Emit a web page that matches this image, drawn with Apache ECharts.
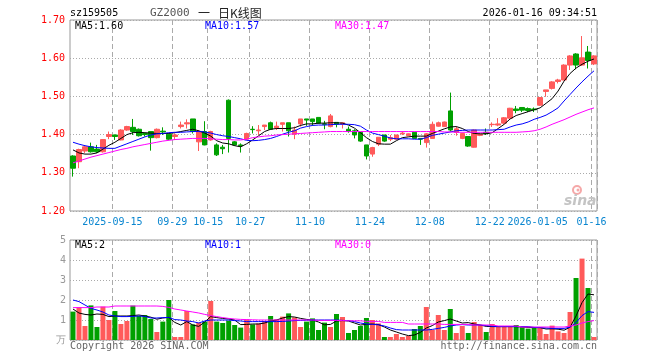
<!DOCTYPE html>
<html><head><meta charset="utf-8">
<script src="https://cdn.jsdelivr.net/npm/echarts@6/dist/echarts.min.js"></script>
<style>html,body{margin:0;padding:0;background:#fff}#c{width:660px;height:360px}</style>
</head><body><div id="c"></div>
<script>
const dates = [
"2025-09-04","2025-09-05","2025-09-08","2025-09-09","2025-09-10","2025-09-11","2025-09-12",
"2025-09-15","2025-09-16","2025-09-17","2025-09-18","2025-09-19",
"2025-09-22","2025-09-23","2025-09-24","2025-09-25","2025-09-26",
"2025-09-29","2025-09-30",
"2025-10-09","2025-10-10",
"2025-10-13","2025-10-14","2025-10-15","2025-10-16","2025-10-17",
"2025-10-21","2025-10-22","2025-10-23","2025-10-24",
"2025-10-27","2025-10-28","2025-10-29","2025-10-30","2025-10-31",
"2025-11-03","2025-11-04","2025-11-05","2025-11-06","2025-11-07",
"2025-11-10","2025-11-11","2025-11-12","2025-11-13","2025-11-14",
"2025-11-17","2025-11-18","2025-11-19","2025-11-20","2025-11-21",
"2025-11-24","2025-11-25","2025-11-26","2025-11-27","2025-11-28",
"2025-12-01","2025-12-02","2025-12-03","2025-12-04","2025-12-05",
"2025-12-08","2025-12-09","2025-12-10","2025-12-11","2025-12-12",
"2025-12-15","2025-12-16","2025-12-17","2025-12-18","2025-12-19",
"2025-12-22","2025-12-23","2025-12-24","2025-12-25","2025-12-26",
"2025-12-29","2025-12-30","2025-12-31",
"2026-01-05","2026-01-06","2026-01-07","2026-01-08","2026-01-09",
"2026-01-12","2026-01-13","2026-01-14","2026-01-15","2026-01-16"];

const opens = [1.344,1.329,1.357,1.368,1.362,1.355,1.395,1.399,1.386,1.412,
1.419,1.414,1.403,1.408,1.392,1.409,1.401,1.395,1.421,1.428,
1.441,1.381,1.408,1.386,1.373,1.367,1.490,1.381,1.373,1.388,
1.414,1.410,1.421,1.431,1.418,1.427,1.431,1.401,1.428,1.441,
1.441,1.445,1.428,1.421,1.432,1.428,1.414,1.410,1.406,1.373,
1.349,1.375,1.399,1.388,1.388,1.402,1.397,1.406,1.390,1.379,
1.390,1.422,1.421,1.462,1.406,1.390,1.395,1.367,1.398,1.406,
1.426,1.425,1.430,1.443,1.467,1.471,1.468,1.467,1.477,1.513,
1.521,1.539,1.543,1.582,1.611,1.582,1.616,1.585];
const closes = [1.312,1.361,1.368,1.355,1.355,1.387,1.400,1.395,1.412,1.421,
1.408,1.397,1.400,1.392,1.414,1.407,1.388,1.399,1.425,1.431,
1.408,1.408,1.373,1.408,1.347,1.363,1.390,1.373,1.371,1.403,
1.413,1.412,1.425,1.414,1.422,1.431,1.410,1.412,1.441,1.438,
1.434,1.430,1.427,1.449,1.427,1.431,1.408,1.399,1.383,1.344,
1.366,1.393,1.383,1.392,1.399,1.404,1.402,1.390,1.388,1.402,
1.427,1.431,1.433,1.412,1.415,1.403,1.370,1.412,1.401,1.403,
1.427,1.428,1.444,1.469,1.463,1.464,1.463,1.465,1.497,1.517,
1.538,1.543,1.582,1.606,1.582,1.601,1.594,1.606];
const lows = [1.290,1.312,1.352,1.353,1.352,1.353,1.388,1.386,1.385,1.410,
1.399,1.395,1.395,1.358,1.390,1.399,1.385,1.386,1.416,1.416,
1.403,1.357,1.372,1.384,1.344,1.349,1.353,1.371,1.353,1.386,
1.403,1.399,1.412,1.412,1.412,1.408,1.395,1.388,1.421,1.423,
1.423,1.428,1.414,1.419,1.419,1.416,1.405,1.390,1.381,1.335,
1.342,1.370,1.381,1.383,1.386,1.399,1.396,1.389,1.373,1.366,
1.390,1.421,1.421,1.408,1.397,1.388,1.368,1.366,1.396,1.399,
1.420,1.422,1.428,1.442,1.456,1.459,1.459,1.459,1.475,1.499,
1.518,1.534,1.542,1.569,1.571,1.580,1.573,1.582];
const highs = [1.346,1.363,1.372,1.379,1.373,1.388,1.408,1.400,1.414,1.423,
1.441,1.416,1.405,1.408,1.416,1.419,1.401,1.403,1.434,1.440,
1.441,1.412,1.435,1.410,1.377,1.373,1.492,1.383,1.377,1.405,
1.422,1.425,1.425,1.434,1.434,1.431,1.431,1.421,1.441,1.441,
1.441,1.445,1.436,1.454,1.432,1.431,1.421,1.414,1.406,1.373,
1.368,1.393,1.399,1.399,1.399,1.409,1.403,1.406,1.390,1.404,
1.434,1.434,1.434,1.510,1.421,1.405,1.396,1.413,1.403,1.416,
1.432,1.443,1.446,1.470,1.475,1.471,1.471,1.471,1.498,1.517,
1.540,1.546,1.584,1.608,1.613,1.658,1.632,1.608];

const volumes = [1.42,1.63,0.70,1.73,0.65,1.67,1.00,1.45,0.80,0.95,
1.72,1.20,1.25,1.05,0.40,0.92,2.00,0.15,0.15,1.45,
0.78,0.87,0.92,1.95,0.92,0.85,0.97,0.75,0.62,1.03,
0.78,0.83,0.95,1.20,1.03,1.17,1.33,1.13,0.65,0.92,
1.08,0.50,0.87,0.65,1.30,1.15,0.35,0.50,0.70,1.10,
1.00,0.83,0.15,0.15,0.30,0.15,0.20,0.55,0.70,1.65,
0.50,1.25,0.50,1.55,0.35,0.70,0.35,0.90,0.75,0.40,
0.80,0.70,0.67,0.67,0.75,0.63,0.57,0.60,0.63,0.30,
0.72,0.43,0.35,1.40,3.10,4.07,2.60,0.15];

const ma5 = [1.360,1.352,1.349,1.349,1.352,1.362,1.372,1.380,1.390,1.400,
1.405,1.406,1.405,1.404,1.403,1.403,1.403,1.405,1.408,1.411,
1.414,1.410,1.404,1.396,1.384,1.378,1.376,1.371,1.368,1.376,
1.386,1.397,1.408,1.414,1.416,1.416,1.416,1.418,1.424,1.428,
1.428,1.430,1.430,1.431,1.431,1.430,1.425,1.417,1.405,1.392,
1.382,1.376,1.375,1.375,1.384,1.392,1.394,1.396,1.396,1.396,
1.403,1.409,1.415,1.420,1.421,1.416,1.408,1.403,1.402,1.402,
1.405,1.416,1.427,1.441,1.450,1.455,1.460,1.465,1.470,1.482,
1.494,1.514,1.540,1.560,1.574,1.584,1.592,1.598];
const ma10 = [1.380,1.375,1.371,1.368,1.366,1.365,1.364,1.364,1.370,1.376,
1.382,1.388,1.394,1.399,1.402,1.403,1.405,1.406,1.406,1.407,
1.408,1.408,1.407,1.404,1.400,1.397,1.395,1.392,1.389,1.385,
1.384,1.385,1.387,1.390,1.395,1.401,1.406,1.410,1.417,1.421,
1.424,1.425,1.425,1.426,1.427,1.427,1.427,1.426,1.422,1.412,
1.404,1.400,1.396,1.391,1.389,1.389,1.389,1.388,1.388,1.392,
1.398,1.401,1.404,1.407,1.410,1.411,1.412,1.412,1.412,1.412,
1.412,1.413,1.414,1.420,1.425,1.428,1.433,1.440,1.445,1.451,
1.460,1.470,1.488,1.505,1.522,1.538,1.553,1.567];
const ma30 = [1.326,1.331,1.336,1.341,1.345,1.349,1.353,1.357,1.361,1.364,
1.368,1.371,1.374,1.377,1.380,1.383,1.385,1.387,1.388,1.389,
1.390,1.390,1.390,1.389,1.388,1.387,1.387,1.386,1.386,1.388,
1.392,1.394,1.396,1.397,1.399,1.400,1.401,1.402,1.403,1.404,
1.405,1.406,1.407,1.408,1.408,1.408,1.408,1.408,1.408,1.408,
1.408,1.408,1.408,1.408,1.408,1.408,1.408,1.408,1.408,1.408,
1.408,1.408,1.407,1.407,1.406,1.406,1.406,1.406,1.406,1.406,
1.406,1.406,1.406,1.406,1.406,1.407,1.408,1.410,1.414,1.420,
1.427,1.433,1.439,1.446,1.453,1.459,1.465,1.470];

const vma5 = [1.55,1.35,1.28,1.25,1.30,1.28,1.17,1.20,1.20,1.20,
1.22,1.25,1.20,1.14,1.04,1.10,1.13,0.88,0.75,0.92,
0.75,0.68,0.90,1.17,1.12,1.08,1.05,1.00,0.77,0.78,
0.80,0.80,0.85,0.95,1.00,1.10,1.17,1.15,1.08,1.03,
1.00,0.90,0.76,0.78,0.95,0.97,0.95,0.85,0.75,0.78,
0.80,0.77,0.65,0.50,0.40,0.30,0.22,0.25,0.38,0.60,
0.72,0.90,0.97,1.05,0.95,0.85,0.87,0.80,0.75,0.68,
0.67,0.67,0.67,0.67,0.67,0.65,0.63,0.62,0.62,0.55,
0.56,0.54,0.49,0.64,1.20,1.87,2.30,2.26];
const vma10 = [2.00,1.92,1.75,1.58,1.50,1.40,1.25,1.20,1.17,1.17,
1.18,1.20,1.18,1.10,1.10,1.12,1.13,1.02,1.00,0.95,
0.92,0.85,0.95,1.00,1.00,1.00,1.00,0.97,0.95,0.92,
0.92,0.92,0.92,0.92,0.92,0.93,0.95,0.97,0.98,0.99,
1.00,1.00,1.00,1.00,1.00,0.98,0.97,0.92,0.85,0.80,
0.78,0.76,0.70,0.60,0.52,0.50,0.50,0.50,0.50,0.50,
0.53,0.58,0.63,0.70,0.75,0.77,0.75,0.75,0.75,0.72,
0.68,0.67,0.67,0.67,0.67,0.67,0.67,0.63,0.62,0.60,
0.58,0.58,0.58,0.64,0.87,1.22,1.42,1.38];
const vma30 = [1.62,1.62,1.62,1.62,1.65,1.65,1.65,1.70,1.70,1.70,
1.70,1.70,1.70,1.70,1.70,1.68,1.63,1.55,1.50,1.45,
1.40,1.35,1.28,1.22,1.17,1.12,1.08,1.05,1.03,1.02,
1.01,1.00,1.00,1.00,1.00,1.00,1.00,1.00,1.00,1.00,
1.00,0.98,0.98,0.98,0.98,0.97,0.96,0.96,0.96,0.93,
0.93,0.93,0.88,0.88,0.88,0.88,0.80,0.80,0.80,0.80,
0.80,0.80,0.78,0.78,0.78,0.78,0.78,0.75,0.75,0.75,
0.75,0.70,0.70,0.70,0.70,0.65,0.65,0.65,0.65,0.65,
0.65,0.65,0.65,0.70,0.75,0.85,0.92,0.97];

const tickDates = ["2025-09-15","2025-09-29","2025-10-15","2025-10-27","2025-11-10","2025-11-24","2025-12-08","2025-12-22","2026-01-05","2026-01-16"];
const tickLabels = ["2025-09-15","09-29","10-15","10-27","11-10","11-24","12-08","12-22","2026-01-05","01-16"];

const RED = '#ff5a5a', GREEN = '#00a000';
const MONO = "'DejaVu Sans Mono', monospace";
const labelOf = {};
tickDates.forEach((d, j) => { labelOf[dates.indexOf(d)] = tickLabels[j]; });
const isTick = (i) => Object.prototype.hasOwnProperty.call(labelOf, i);

const candleData = dates.map((d, i) => [opens[i], closes[i], lows[i], highs[i]]);
const volData = volumes.map((v, i) => ({ value: v, itemStyle: { color: closes[i] >= opens[i] ? RED : GREEN } }));
const last = (a) => a[a.length - 1];

function txt(x, y, text, fill, opts) {
  opts = opts || {};
  return {
    type: 'text', x: x, y: y, silent: true, z: opts.z || 10,
    style: {
      text: text, fill: fill,
      font: opts.font || ('10px ' + MONO),
      textAlign: opts.align || 'left', align: opts.align || 'left',
      textVerticalAlign: 'middle', verticalAlign: 'middle'
    }
  };
}

const chart = echarts.init(document.getElementById('c'), null, { renderer: 'canvas' });
const xCommon = {
  type: 'category', data: dates, boundaryGap: true,
  axisLine: { show: false }, axisTick: { show: false },
  splitLine: { show: true, interval: (i) => isTick(i), lineStyle: { color: '#aaa', width: 1, type: [5, 3] } }
};
chart.setOption({
  animation: false,
  backgroundColor: '#fff',
  grid: [
    { left: 70, top: 20, width: 527, height: 191, show: true, borderColor: '#999', borderWidth: 1, backgroundColor: 'transparent' },
    { left: 70, top: 240, width: 527, height: 100, show: true, borderColor: '#999', borderWidth: 1, backgroundColor: 'transparent' }
  ],
  xAxis: [
    Object.assign({}, xCommon, {
      gridIndex: 0,
      axisLabel: {
        show: true, interval: (i) => isTick(i),
        formatter: (v, i) => labelOf[i] || '',
        color: '#0a86d0', fontFamily: MONO, fontSize: 10, margin: 6, padding: [0, 5, 0, 0]
      }
    }),
    Object.assign({}, xCommon, { gridIndex: 1, axisLabel: { show: false } })
  ],
  yAxis: [
    {
      type: 'value', gridIndex: 0, min: 1.2, max: 1.7, interval: 0.1,
      axisLine: { show: false }, axisTick: { show: false },
      axisLabel: { color: '#ff0000', fontFamily: MONO, fontSize: 10, margin: 5, formatter: (v) => v.toFixed(2) },
      splitLine: { show: true, lineStyle: { color: '#aaa', width: 1, type: [1, 2] } }
    },
    {
      type: 'value', gridIndex: 1, min: 0, max: 5, interval: 1,
      axisLine: { show: false }, axisTick: { show: false },
      axisLabel: { color: '#999', fontFamily: MONO, fontSize: 10, margin: 4, formatter: (v) => v === 0 ? '万' : String(v) },
      splitLine: { show: true, lineStyle: { color: '#aaa', width: 1, type: [1, 2] } }
    }
  ],
  series: [
    {
      type: 'candlestick', xAxisIndex: 0, yAxisIndex: 0, data: candleData, barWidth: 5,
      itemStyle: { color: RED, color0: GREEN, borderColor: RED, borderColor0: GREEN, borderWidth: 1 }
    },
    { type: 'line', xAxisIndex: 0, yAxisIndex: 0, data: ma5, symbol: 'none', lineStyle: { color: '#000', width: 1 }, z: 5 },
    { type: 'line', xAxisIndex: 0, yAxisIndex: 0, data: ma10, symbol: 'none', lineStyle: { color: '#0000ff', width: 1 }, z: 5 },
    { type: 'line', xAxisIndex: 0, yAxisIndex: 0, data: ma30, symbol: 'none', lineStyle: { color: '#ff00ff', width: 1 }, z: 5 },
    { type: 'bar', xAxisIndex: 1, yAxisIndex: 1, data: volData, barWidth: 5 },
    { type: 'line', xAxisIndex: 1, yAxisIndex: 1, data: vma5, symbol: 'none', lineStyle: { color: '#000', width: 1 }, z: 5 },
    { type: 'line', xAxisIndex: 1, yAxisIndex: 1, data: vma10, symbol: 'none', lineStyle: { color: '#0000ff', width: 1 }, z: 5 },
    { type: 'line', xAxisIndex: 1, yAxisIndex: 1, data: vma30, symbol: 'none', lineStyle: { color: '#ff00ff', width: 1 }, z: 5 }
  ],
  graphic: [
    txt(70, 13, 'sz159505', '#000'),
    txt(150, 13, 'GZ2000', '#555', { font: '11px ' + MONO }),
    txt(198, 13, '一', '#222', { font: "12px 'Noto Sans CJK SC'" }),
    txt(218, 13, '日K线图', '#222', { font: "12px 'Noto Sans CJK SC'" }),
    txt(597, 13, '2026-01-16 09:34:51', '#000', { align: 'right' }),
    txt(75, 26, 'MA5:' + last(ma5).toFixed(2), '#000'),
    txt(205, 26, 'MA10:' + last(ma10).toFixed(2), '#0000ff'),
    txt(335, 26, 'MA30:' + last(ma30).toFixed(2), '#ff00ff'),
    txt(75, 245, 'MA5:' + Math.floor(last(vma5)), '#000'),
    txt(205, 245, 'MA10:' + Math.floor(last(vma10)), '#0000ff'),
    txt(335, 245, 'MA30:' + Math.floor(last(vma30)), '#ff00ff'),
    txt(70, 346, 'Copyright 2026 SINA.COM', '#666'),
    txt(597, 346, 'http://finance.sina.com.cn', '#666', { align: 'right' }),
    { type: 'circle', shape: { cx: 577, cy: 190, r: 4 }, style: { fill: 'none', stroke: '#f5a8a8', lineWidth: 2 }, silent: true, z: 1 },
    { type: 'circle', shape: { cx: 578, cy: 190, r: 1.5 }, style: { fill: '#f5a8a8' }, silent: true, z: 1 },
    txt(564, 201, 'sina', '#c4c4c4', { font: "italic bold 14px 'DejaVu Sans'", z: 1 })
  ]
});
</script></body></html>
